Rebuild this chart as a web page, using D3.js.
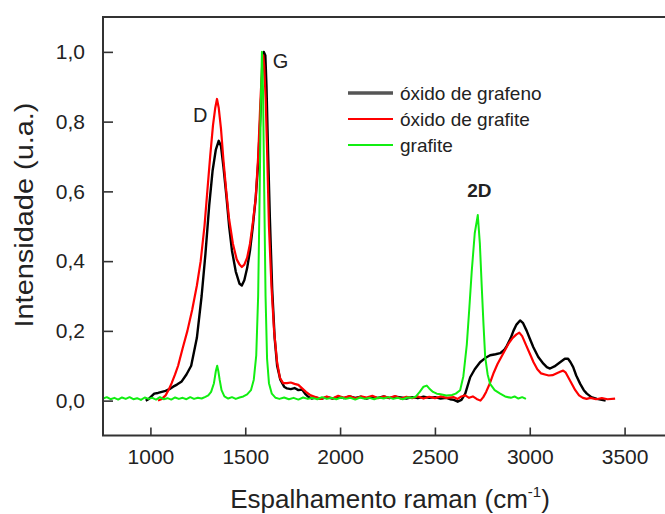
<!DOCTYPE html>
<html><head><meta charset="utf-8">
<script src="https://cdn.jsdelivr.net/npm/d3@7"></script>
<style>
html,body{margin:0;padding:0;background:#fff;}
text{font-family:"Liberation Sans",Arial,sans-serif;}
</style></head>
<body>
<svg id="chart" width="665" height="514"></svg>
<script>
// ---- data ----
const xTicks = [1000, 1500, 2000, 2500, 3000, 3500];
const yTicks = [0, 0.2, 0.4, 0.6, 0.8, 1.0];
const seriesNames = ["óxido de grafeno", "óxido de grafite", "grafite"];
const seriesColors = ["#000000", "#ff0000", "#11ee11"];

const oxidoGrafeno = [
  [975,0.0],[990,0.004],[1005,0.012],[1020,0.02],[1040,0.022],[1060,0.025],[1080,0.028],[1100,0.033],
  [1120,0.04],[1140,0.046],[1165,0.055],[1190,0.075],[1215,0.1],[1245,0.18],[1270,0.3],[1290,0.42],
  [1310,0.56],[1328,0.66],[1345,0.72],[1360,0.745],[1372,0.73],[1385,0.67],[1400,0.59],[1415,0.5],
  [1430,0.43],[1450,0.37],[1470,0.335],[1482,0.33],[1495,0.345],[1510,0.38],[1525,0.43],[1540,0.5],
  [1555,0.58],[1568,0.68],[1580,0.82],[1590,0.94],[1598,1.0],[1606,0.99],[1612,0.9],[1620,0.72],
  [1630,0.52],[1642,0.32],[1655,0.18],[1668,0.1],[1685,0.06],[1705,0.04],[1720,0.035],[1740,0.033],
  [1760,0.036],[1780,0.03],[1800,0.032],[1815,0.02],[1830,0.012],[1850,0.006],[1870,0.009],[1900,0.005],
  [1930,0.01],[1960,0.006],[1990,0.011],[2020,0.007],[2050,0.012],[2080,0.008],[2110,0.011],[2140,0.006],
  [2170,0.01],[2200,0.008],[2230,0.012],[2260,0.007],[2290,0.011],[2320,0.009],[2350,0.006],[2380,0.01],
  [2410,0.007],[2440,0.011],[2470,0.008],[2500,0.01],[2530,0.006],[2560,0.008],[2580,0.004],[2600,0.002],
  [2620,-0.003],[2640,0.002],[2660,0.02],[2686,0.067],[2710,0.09],[2738,0.11],[2765,0.122],[2791,0.13],
  [2820,0.133],[2844,0.136],[2865,0.145],[2880,0.158],[2900,0.18],[2914,0.2],[2930,0.218],[2949,0.23],
  [2965,0.222],[2984,0.2],[3000,0.178],[3019,0.153],[3045,0.125],[3072,0.106],[3090,0.096],[3107,0.092],
  [3130,0.098],[3160,0.11],[3185,0.12],[3202,0.12],[3215,0.11],[3229,0.096],[3245,0.072],[3266,0.048],
  [3285,0.03],[3301,0.02],[3325,0.01],[3354,0.005],[3380,0.002],[3400,0.0]
];

const oxidoGrafite = [
  [1040,0.0],[1060,0.005],[1080,0.015],[1095,0.03],[1112,0.05],[1130,0.075],[1146,0.1],[1170,0.15],
  [1195,0.2],[1220,0.26],[1245,0.33],[1265,0.4],[1285,0.5],[1300,0.6],[1315,0.7],[1330,0.79],
  [1342,0.84],[1351,0.865],[1360,0.84],[1372,0.78],[1385,0.69],[1400,0.6],[1415,0.52],[1435,0.45],
  [1455,0.405],[1470,0.39],[1482,0.383],[1495,0.39],[1510,0.41],[1525,0.45],[1540,0.51],[1555,0.58],
  [1568,0.7],[1580,0.86],[1590,0.97],[1595,0.99],[1600,0.96],[1608,0.86],[1616,0.7],[1625,0.5],
  [1638,0.33],[1652,0.2],[1668,0.11],[1683,0.065],[1700,0.05],[1720,0.05],[1740,0.052],[1760,0.048],
  [1780,0.045],[1800,0.035],[1820,0.025],[1845,0.015],[1870,0.01],[1900,0.005],[1930,0.012],[1960,0.006],
  [1990,0.014],[2020,0.008],[2050,0.013],[2080,0.006],[2110,0.012],[2140,0.009],[2170,0.014],[2200,0.007],
  [2230,0.012],[2260,0.008],[2290,0.013],[2320,0.006],[2350,0.011],[2380,0.007],[2410,0.012],[2440,0.006],
  [2470,0.011],[2500,0.007],[2530,0.012],[2560,0.008],[2600,0.01],[2620,0.005],[2640,0.012],[2660,0.015],
  [2680,0.008],[2700,0.012],[2720,0.005],[2740,0.0],[2755,0.01],[2770,0.025],[2790,0.05],[2810,0.08],
  [2830,0.105],[2850,0.125],[2870,0.145],[2890,0.165],[2910,0.18],[2930,0.19],[2945,0.195],[2960,0.185],
  [2980,0.16],[3000,0.135],[3020,0.11],[3040,0.09],[3060,0.078],[3080,0.075],[3100,0.072],[3120,0.073],
  [3140,0.078],[3160,0.083],[3176,0.086],[3190,0.08],[3205,0.065],[3220,0.05],[3240,0.03],[3260,0.015],
  [3280,0.008],[3300,0.005],[3320,0.008],[3350,0.004],[3380,0.007],[3410,0.004],[3450,0.006]
];

const grafite = [
  [750,0.006],[770,0.01],[790,0.004],[810,0.008],[830,0.003],[850,0.009],[870,0.005],[890,0.01],
  [910,0.004],[930,0.007],[950,0.002],[970,0.009],[990,0.005],[1010,0.008],[1030,0.003],[1050,0.01],
  [1070,0.004],[1090,0.007],[1110,0.003],[1130,0.009],[1150,0.005],[1170,0.008],[1190,0.004],[1210,0.01],
  [1230,0.005],[1250,0.008],[1270,0.006],[1290,0.011],[1305,0.015],[1320,0.025],[1335,0.05],[1345,0.085],
  [1352,0.1],[1358,0.085],[1365,0.06],[1375,0.03],[1390,0.012],[1410,0.006],[1430,0.01],[1450,0.005],
  [1470,0.009],[1490,0.012],[1510,0.018],[1530,0.03],[1545,0.06],[1558,0.13],[1568,0.3],[1576,0.6],
  [1582,0.85],[1588,1.0],[1594,0.88],[1600,0.6],[1607,0.3],[1615,0.12],[1625,0.05],[1640,0.02],
  [1660,0.008],[1680,0.005],[1705,0.009],[1730,0.004],[1755,0.008],[1780,0.003],[1805,0.009],[1830,0.005],
  [1855,0.008],[1880,0.004],[1905,0.01],[1930,0.005],[1955,0.008],[1980,0.004],[2005,0.009],[2030,0.005],
  [2055,0.008],[2080,0.003],[2105,0.009],[2130,0.005],[2155,0.008],[2180,0.004],[2205,0.009],[2230,0.006],
  [2255,0.01],[2280,0.005],[2305,0.008],[2330,0.004],[2355,0.009],[2380,0.008],[2400,0.012],[2420,0.025],
  [2440,0.04],[2457,0.043],[2470,0.035],[2490,0.025],[2510,0.02],[2530,0.018],[2560,0.015],[2590,0.016],
  [2610,0.02],[2633,0.03],[2650,0.07],[2668,0.16],[2682,0.27],[2694,0.37],[2710,0.48],[2726,0.532],
  [2737,0.45],[2747,0.326],[2756,0.22],[2765,0.125],[2778,0.075],[2791,0.048],[2815,0.03],[2844,0.02],
  [2870,0.012],[2900,0.008],[2920,0.012],[2940,0.006],[2960,0.01],[2980,0.005]
];

const annotations = [
  {text:"D", x:1225, y:0.798, bold:false},
  {text:"G", x:1645, y:0.955, bold:false},
  {text:"2D", x:2670, y:0.585, bold:true}
];

// ---- chart ----
const svg = d3.select("#chart");
const x = d3.scaleLinear().domain([750, 3750]).range([103, 672]);
const y = d3.scaleLinear().domain([-0.1, 1.1]).range([435.5, 17]);

svg.append("defs").append("clipPath").attr("id","plotclip")
  .append("rect").attr("x",103).attr("y",17).attr("width",569).attr("height",418.5);

const line = d3.line().x(d=>x(d[0])).y(d=>y(d[1])).curve(d3.curveLinear);
const plot = svg.append("g").attr("clip-path","url(#plotclip)");
const allSeries = [oxidoGrafeno, oxidoGrafite, grafite];
const widths = [2.4, 2.2, 2.0];
allSeries.forEach((s,i)=>{
  plot.append("path").datum(s).attr("d",line)
    .attr("fill","none").attr("stroke",seriesColors[i])
    .attr("stroke-width",widths[i]).attr("stroke-linejoin","round");
});

// frame
svg.append("rect").attr("x",103).attr("y",17).attr("width",569).attr("height",418.5)
  .attr("fill","none").attr("stroke","#333").attr("stroke-width",2);

// axes
const fmt = d => d3.format(".1f")(d).replace(".", ",");
const xAxis = d3.axisBottom(x).tickValues(xTicks).tickSizeInner(-8).tickSizeOuter(0).tickPadding(14).tickFormat(d3.format("d"));
const gx = svg.append("g").attr("transform","translate(0,435.5)").call(xAxis);
gx.select(".domain").remove();
gx.selectAll(".tick line").attr("stroke","#333").attr("stroke-width",1.6);
gx.selectAll(".tick text").attr("font-size",21).attr("fill","#222")
  .style("font-family",'"Liberation Sans",Arial,sans-serif');

const yAxis = d3.axisLeft(y).tickValues(yTicks).tickSizeInner(-10).tickSizeOuter(0).tickPadding(18).tickFormat(fmt);
const gy = svg.append("g").attr("transform","translate(103,0)").call(yAxis);
gy.select(".domain").remove();
gy.selectAll(".tick line").attr("stroke","#333").attr("stroke-width",1.6);
gy.selectAll(".tick text").attr("font-size",21).attr("fill","#222")
  .style("font-family",'"Liberation Sans",Arial,sans-serif');

// axis titles
const xt = svg.append("text").attr("x",390).attr("y",508).attr("text-anchor","middle")
  .attr("font-size",26).attr("fill","#222");
xt.append("tspan").text("Espalhamento raman (cm");
xt.append("tspan").attr("font-size",15).attr("dy",-11).text("-1");
xt.append("tspan").attr("dy",11).text(")");

svg.append("text").attr("transform","translate(33,215) rotate(-90)")
  .attr("text-anchor","middle").attr("font-size",26).attr("fill","#222")
  .attr("textLength",225).attr("lengthAdjust","spacingAndGlyphs")
  .text("Intensidade (u.a.)");

// annotations
annotations.forEach(a=>{
  svg.append("text").attr("x",x(a.x)).attr("y",y(a.y))
    .attr("font-size",a.bold?19:20).attr("font-weight",a.bold?"bold":"normal")
    .attr("fill","#222").text(a.text);
});

// legend
const legendColors = ["#555555", "#ff0000", "#11ee11"];
const legendWidths = [3.5, 1.8, 1.8];
seriesNames.forEach((n,i)=>{
  const yy = 93 + i*26;
  svg.append("line").attr("x1",348).attr("x2",393).attr("y1",yy).attr("y2",yy)
    .attr("stroke",legendColors[i]).attr("stroke-width",legendWidths[i]);
  svg.append("text").attr("x",400).attr("y",yy+7).attr("font-size",19).attr("fill","#222").text(n);
});
</script>
</body></html>
